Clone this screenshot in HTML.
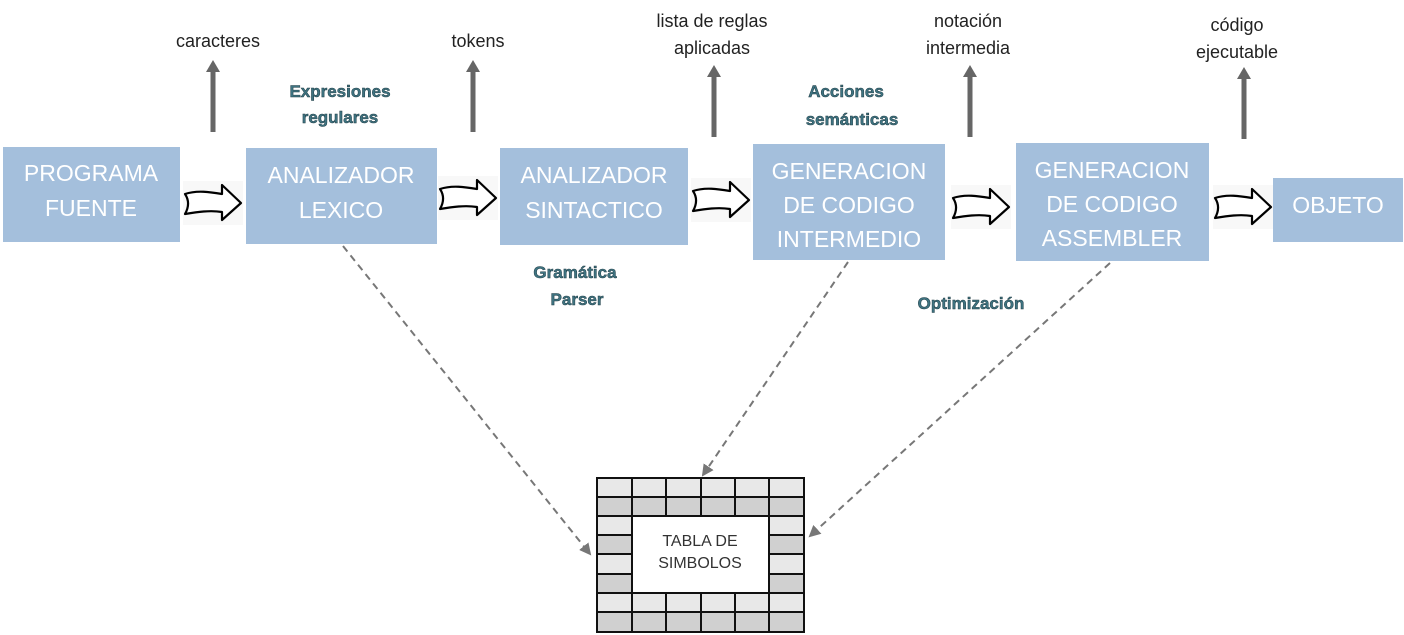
<!DOCTYPE html>
<html><head><meta charset="utf-8"><style>
body{margin:0;background:#fff;width:1404px;height:635px;overflow:hidden}
svg{display:block}
.bt{font-family:"Liberation Sans",sans-serif;font-size:23px;fill:#fff;text-anchor:middle}
.lb{font-family:"Liberation Sans",sans-serif;font-size:18px;fill:#222;text-anchor:middle}
.tl{font-family:"Liberation Sans",sans-serif;font-size:17px;font-weight:bold;fill:#3f7482;stroke:#1d3a42;stroke-width:0.5;text-anchor:middle}
</style></head><body>
<svg width="1404" height="635" viewBox="0 0 1404 635">
<defs>
<marker id="dh" markerWidth="12" markerHeight="12" refX="10" refY="6" orient="auto" markerUnits="userSpaceOnUse"><path d="M0,0 L12,6 L0,12 Z" fill="#777"/></marker>
<g id="ba"><rect x="-2" y="-3" width="60" height="44" fill="#f8f8f8"/><path d="M0,10 C12,6 25,8 37,10 L37,1 L56,19 L37,36 L37,28 C25,26 12,28 0,30 C4,23 4,16 0,10 Z" fill="#fff" stroke="#000" stroke-width="2.2" stroke-linejoin="round"/></g>
<g id="ua"><rect x="-2.5" y="10" width="5" height="62" fill="#666"/><path d="M-7,12 L0,0 L7,12 Z" fill="#666"/></g>
</defs>
<g fill="#a4bfdc">
<rect x="3" y="147" width="177" height="95"/>
<rect x="246" y="148" width="191" height="96"/>
<rect x="500" y="148" width="188" height="97"/>
<rect x="753" y="144" width="192" height="116"/>
<rect x="1016" y="143" width="193" height="118"/>
<rect x="1273" y="178" width="130" height="64"/>
</g>
<text class="bt" x="91" y="181">PROGRAMA</text><text class="bt" x="91" y="216">FUENTE</text>
<text class="bt" x="341" y="183">ANALIZADOR</text><text class="bt" x="341" y="218">LEXICO</text>
<text class="bt" x="594" y="183">ANALIZADOR</text><text class="bt" x="594" y="218">SINTACTICO</text>
<text class="bt" x="849" y="179">GENERACION</text><text class="bt" x="849" y="213">DE CODIGO</text><text class="bt" x="849" y="247">INTERMEDIO</text>
<text class="bt" x="1112" y="178">GENERACION</text><text class="bt" x="1112" y="212">DE CODIGO</text><text class="bt" x="1112" y="246">ASSEMBLER</text>
<text class="bt" x="1338" y="213">OBJETO</text>
<use href="#ba" x="185" y="184"/>
<use href="#ba" x="440" y="179"/>
<use href="#ba" x="693" y="181"/>
<use href="#ba" x="953" y="188"/>
<use href="#ba" x="1215" y="188"/>
<use href="#ua" x="213" y="60"/>
<use href="#ua" x="473" y="60"/>
<use href="#ua" x="714" y="65"/>
<use href="#ua" x="970" y="65"/>
<use href="#ua" x="1244" y="67"/>
<g class="lb">
<text x="218" y="47">caracteres</text>
<text x="478" y="47">tokens</text>
<text x="712" y="27">lista de reglas</text><text x="712" y="54">aplicadas</text>
<text x="968" y="27">notación</text><text x="968" y="54">intermedia</text>
<text x="1237" y="31">código</text><text x="1237" y="58">ejecutable</text>
</g>
<g class="tl">
<text x="340" y="97">Expresiones</text><text x="340" y="123">regulares</text>
<text x="846" y="97">Acciones</text><text x="852" y="125">semánticas</text>
<text x="575" y="278">Gramática</text><text x="577" y="305">Parser</text>
<text x="971" y="309">Optimización</text>
</g>
<g stroke="#777" stroke-width="2" stroke-dasharray="7,5" fill="none">
<line x1="343" y1="246" x2="590" y2="554" marker-end="url(#dh)"/>
<line x1="848" y1="262" x2="703" y2="475" marker-end="url(#dh)"/>
<line x1="1110" y1="263" x2="810" y2="536" marker-end="url(#dh)"/>
</g>
<g stroke="#111" stroke-width="2">
<rect x="597" y="478" width="207" height="154" fill="#d0d0d0"/>
<g fill="#e8e8e8" stroke="none">
<rect x="598" y="479" width="205" height="18"/><rect x="598" y="517" width="205" height="18"/><rect x="598" y="555" width="205" height="18"/><rect x="598" y="593" width="205" height="18"/>
</g>
<line x1="597" y1="497" x2="804" y2="497"/><line x1="597" y1="516" x2="804" y2="516"/>
<line x1="597" y1="535" x2="804" y2="535"/><line x1="597" y1="554" x2="804" y2="554"/>
<line x1="597" y1="574" x2="804" y2="574"/><line x1="597" y1="593" x2="804" y2="593"/>
<line x1="597" y1="612" x2="804" y2="612"/>
<line x1="632" y1="478" x2="632" y2="632"/><line x1="666" y1="478" x2="666" y2="632"/>
<line x1="701" y1="478" x2="701" y2="632"/><line x1="735" y1="478" x2="735" y2="632"/>
<line x1="769" y1="478" x2="769" y2="632"/>
<rect x="632" y="516" width="137" height="77" fill="#fff"/>
</g>
<text x="700" y="546" style="font-family:'Liberation Sans',sans-serif;font-size:16px;fill:#333;text-anchor:middle">TABLA DE</text>
<text x="700" y="568" style="font-family:'Liberation Sans',sans-serif;font-size:16px;fill:#333;text-anchor:middle">SIMBOLOS</text>
</svg>
</body></html>
